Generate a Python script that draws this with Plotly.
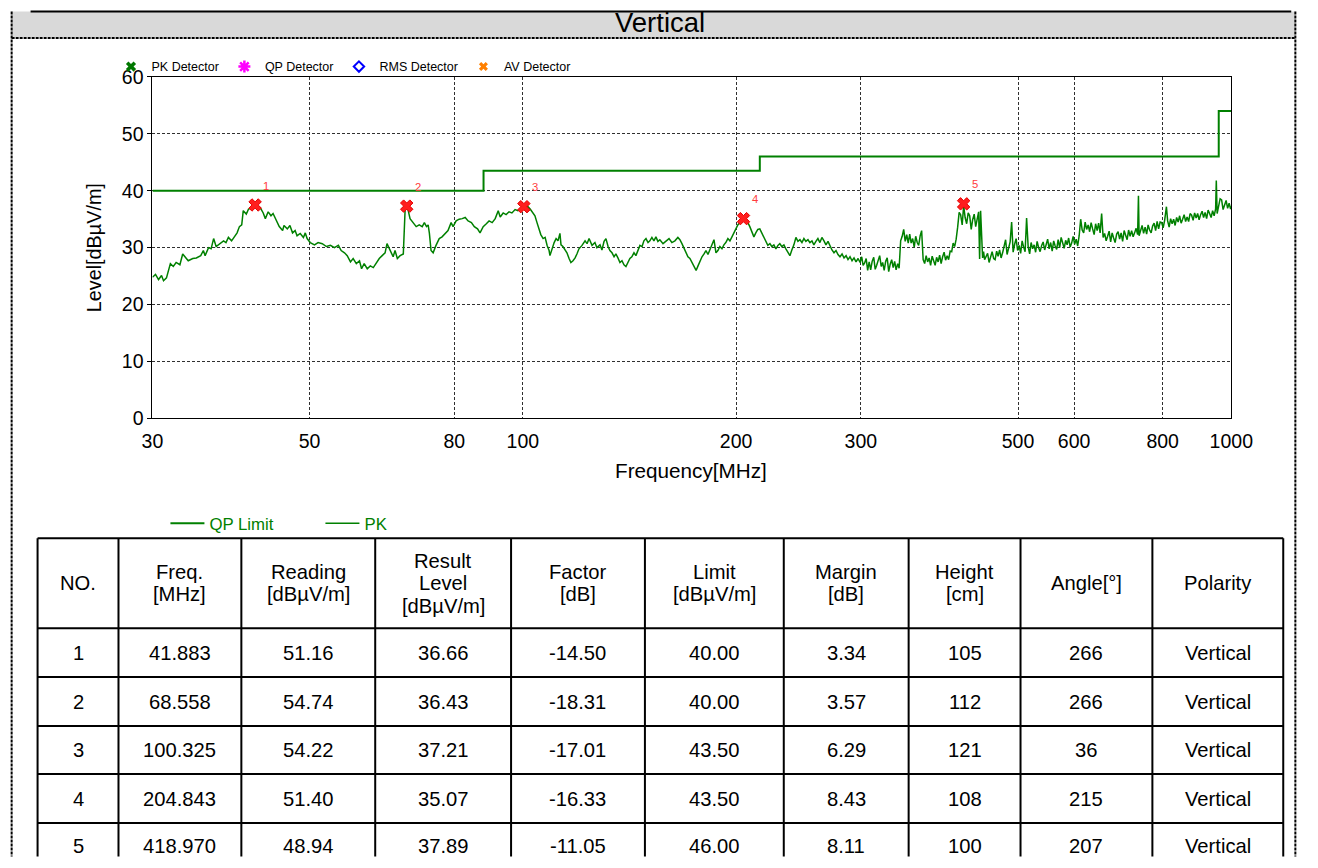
import numpy as np
import plotly.graph_objects as go

W, H = 1318, 868

# ---------------- data ----------------
x_ticks = [30, 50, 80, 100, 200, 300, 500, 600, 800, 1000]
y_ticks = [0, 10, 20, 30, 40, 50, 60]

limit_freq = [30, 88, 216, 960, 1000]
limit_level = [40, 43.5, 46, 54, 54]

# PK sweep, 30-100 MHz
pk_freq_low = [30.0, 30.3, 30.6, 30.9, 31.1, 31.4, 31.8, 32.1, 32.4, 32.8, 33.1, 33.4, 33.7, 34.2, 34.6,
               35.1, 35.4, 35.6, 36.0, 36.3, 36.6, 36.9, 37.3, 37.8, 38.1, 38.4, 38.8, 39.1, 39.5, 39.8,
               40.1, 40.3, 40.7, 41.0, 41.4, 41.8, 42.2, 42.6, 43.0, 43.3, 43.7, 44.1, 44.4, 44.9, 45.3,
               45.8, 46.0, 46.5, 46.9, 47.3, 47.7, 48.0, 48.5, 49.0, 49.3, 49.6, 50.1, 50.8, 51.4, 52.1,
               52.8, 53.5, 54.2, 54.9, 55.4, 56.0, 56.5, 57.1, 57.6, 58.2, 58.8, 59.2, 59.7, 60.3, 60.9,
               61.5, 62.1, 62.7, 63.3, 63.9, 64.3, 64.8, 65.2, 65.6, 66.0, 66.5, 67.1, 67.8, 68.2, 68.7,
               69.3, 70.0, 70.7, 71.4, 72.1, 72.6, 73.1, 73.5, 73.8, 74.2, 74.7, 75.4, 76.2, 76.9, 77.7,
               78.4, 79.2, 79.7, 80.5, 81.3, 82.1, 82.9, 83.7, 84.6, 85.4, 86.3, 87.0, 87.9, 88.8, 89.6,
               90.5, 91.4, 92.3, 92.9, 93.8, 94.7, 95.6, 96.5, 97.5, 98.4, 99.4]
pk_level_low = [24.8, 25.3, 24.4, 25.1, 24.2, 24.7, 27.2, 26.7, 27.4, 27.0, 28.9, 28.2, 27.7, 28.1, 28.2,
                28.6, 29.5, 28.6, 30.0, 29.8, 31.6, 30.2, 30.7, 31.2, 30.9, 31.8, 31.2, 31.9, 32.6, 33.7,
                34.0, 36.5, 35.9, 36.8, 37.0, 37.5, 37.2, 37.0, 36.1, 35.1, 36.3, 35.6, 36.0, 34.7, 33.7,
                33.0, 33.9, 33.3, 33.9, 32.6, 33.0, 32.1, 32.5, 31.8, 32.6, 31.6, 30.9, 30.5, 30.9, 30.7,
                30.2, 30.4, 30.0, 30.4, 29.5, 29.1, 28.6, 27.5, 28.1, 27.2, 27.7, 26.3, 27.2, 26.3, 26.8,
                26.5, 27.4, 28.1, 28.6, 29.1, 30.7, 29.8, 29.1, 28.4, 29.5, 28.1, 28.6, 28.9, 36.7, 37.2,
                35.1, 34.4, 33.7, 34.0, 33.7, 34.4, 33.7, 34.0, 32.5, 29.5, 29.1, 30.4, 31.6, 31.9, 32.6,
                33.0, 34.4, 33.7, 34.7, 35.0, 35.1, 35.3, 34.7, 34.4, 33.7, 33.3, 32.6, 33.7, 34.2, 34.7,
                34.4, 35.1, 36.5, 35.4, 36.1, 35.8, 36.3, 36.1, 36.7, 36.5, 36.8]

# PK sweep, 100-300 MHz
pk_freq_mid = [100.4, 101.3, 102.4, 103.4, 104.0, 104.7, 105.4, 106.0, 106.8, 107.5, 108.2, 108.9, 109.2,
               109.9, 110.7, 111.4, 112.1, 112.8, 113.2, 113.9, 114.7, 115.4, 116.2, 116.9, 117.7, 118.5,
               119.2, 120.0, 121.2, 122.4, 123.2, 124.0, 125.2, 126.4, 127.2, 128.5, 129.3, 130.2, 131.0,
               131.9, 132.7, 133.6, 134.5, 135.3, 136.2, 137.1, 138.0, 138.9, 139.8, 140.7, 141.6, 142.5,
               143.5, 144.4, 145.4, 146.3, 147.3, 148.2, 149.2, 150.2, 151.1, 152.1, 153.1, 154.1, 155.1,
               156.1, 157.7, 159.2, 160.8, 162.3, 163.9, 165.5, 166.6, 167.7, 168.8, 169.9, 171.0, 172.1,
               173.3, 174.4, 175.6, 176.7, 177.9, 179.0, 180.2, 181.3, 182.5, 183.7, 184.9, 186.1, 187.3,
               188.5, 189.7, 191.0, 192.2, 193.4, 194.7, 196.0, 197.3, 198.5, 199.8, 201.1, 202.5, 203.8,
               205.1, 206.4, 207.8, 209.1, 210.5, 211.9, 213.2, 214.6, 216.0, 217.4, 218.9, 220.3, 221.7,
               223.2, 224.6, 226.1, 227.6, 229.1, 230.5, 232.0, 233.6, 235.1, 236.6, 238.2, 239.7, 241.3,
               242.9, 244.5, 246.1, 247.7, 249.3, 250.9, 252.6, 254.2, 255.9, 257.5, 259.2, 260.9, 262.6,
               264.3, 266.1, 267.8, 269.6, 271.3, 273.1, 274.9, 276.7, 278.5, 280.3, 282.2, 284.0, 285.9,
               287.7, 289.6, 291.5, 293.4, 295.3, 297.3, 299.2]
pk_level_mid = [37.2, 37.4, 36.8, 36.1, 35.6, 34.4, 33.3, 32.3, 31.6, 31.8, 30.4, 29.5, 28.6,
                29.8, 30.9, 31.6, 31.2, 32.5, 30.5, 30.2, 29.5, 29.1, 28.1, 27.4, 27.7, 28.2,
                28.9, 29.8, 30.4, 31.2, 30.7, 31.6, 30.4, 30.9, 30.0, 30.5, 29.6, 31.1, 31.6,
                30.2, 29.5, 29.1, 28.4, 28.9, 28.2, 27.4, 27.7, 27.0, 26.7, 27.4, 28.1, 28.4,
                29.1, 28.6, 29.6, 30.4, 30.2, 31.2, 31.6, 30.9, 31.2, 31.8, 31.2, 31.9, 31.1,
                31.4, 30.7, 31.2, 31.6, 30.9, 31.2, 31.8, 31.4, 30.7, 30.0, 29.1, 28.4, 28.1,
                27.4, 26.7, 26.0, 26.8, 27.7, 28.4, 28.9, 29.5, 28.8, 29.8, 30.5, 31.4, 29.1,
                29.5, 30.2, 29.8, 30.5, 30.9, 31.6, 31.2, 31.9, 32.6, 33.3, 34.0, 34.4, 34.9,
                35.1, 34.7, 34.4, 33.7, 32.6, 31.9, 32.6, 33.2, 33.3, 32.6, 31.9, 31.2, 30.4,
                30.7, 30.2, 30.5, 29.8, 30.4, 30.7, 30.2, 30.5, 29.8, 29.1, 28.6, 29.6, 30.5,
                31.8, 31.1, 31.4, 30.9, 31.6, 31.1, 31.4, 30.9, 31.2, 30.5, 31.1, 31.6, 30.9,
                31.8, 31.2, 30.5, 31.1, 30.2, 29.6, 29.1, 29.5, 28.8, 28.4, 28.9, 28.2, 28.6,
                27.9, 28.4, 27.7, 28.2, 27.5, 28.1, 27.4]

# PK sweep, 300-1000 MHz
pk_freq_high = [300.8, 302.2, 303.7, 305.2, 306.7, 308.2, 309.7, 311.2, 312.8, 314.3, 315.8, 317.4,
                318.9, 320.5, 322.0, 323.6, 325.2, 326.8, 328.4, 330.0,
                331.6, 333.2, 334.8, 336.4, 338.1, 339.7, 341.4, 343.1, 344.8, 346.5, 348.2, 349.9,
                351.6, 353.3, 355.0, 356.8, 358.5, 360.3, 362.0, 363.8,
                365.5, 367.3, 369.1, 370.9, 372.7, 374.5, 376.3, 378.2, 380.0, 381.9, 383.7, 385.6,
                387.5, 389.4, 391.3, 393.2, 395.1, 397.1, 399.0, 401.0,
                403.0, 404.9, 406.9, 408.9, 410.9, 412.9, 414.9, 417.0, 419.0, 421.0, 423.1, 425.2,
                427.3, 429.4, 431.4, 433.6, 435.7, 437.8, 439.9,
                441.3, 442.7,
                445.6, 447.0, 448.5, 450.7, 452.9, 455.1, 457.4, 459.6, 461.9, 464.1, 466.4, 468.6,
                470.9, 473.2, 475.5, 477.8, 480.2, 482.5, 484.9, 487.3,
                489.7, 492.1, 494.5, 496.9, 499.3, 501.8, 504.2, 506.7, 509.2, 511.6, 514.1, 516.7,
                519.2, 521.7, 524.3, 526.8, 529.4, 532.0, 534.6, 537.2,
                539.9, 542.5, 545.2, 547.8, 550.5, 553.2, 555.9, 558.7, 561.4, 564.1, 566.9, 569.6,
                572.4, 575.2, 578.0, 580.9, 583.7, 586.5, 589.4, 592.3,
                595.2, 598.1, 601.0, 604.0, 606.9, 609.9, 612.9, 615.9, 618.9, 621.9, 624.9, 628.0,
                631.0, 634.1, 637.2, 640.3, 643.4, 646.6, 649.7, 652.9,
                656.1, 659.3, 662.5, 665.8, 669.0, 672.3, 675.6, 678.9, 682.2, 685.5, 688.9, 692.2,
                695.6, 699.0, 702.4, 705.9, 709.3, 712.8, 716.2, 719.7,
                723.3, 726.8, 730.3, 733.9, 737.5, 739.5, 741.1, 744.7, 748.3, 752.0, 755.7, 759.4,
                763.1, 766.8, 770.6, 774.3, 778.1, 781.9, 785.8, 789.6, 793.5,
                797.4, 801.3, 805.2, 809.9, 813.1, 817.1, 821.0, 825.0, 829.1, 833.1, 837.2, 841.3,
                845.4, 849.5, 853.7, 857.8, 862.0, 866.2, 870.5, 874.7,
                879.0, 883.3, 887.6, 892.0, 896.3, 900.7, 905.1, 909.5, 913.9, 918.4, 922.9, 927.4,
                931.9, 936.5, 941.1, 945.7, 950.3, 952.4, 955.0, 959.6, 964.3,
                969.0, 973.7, 978.5, 983.3, 988.1, 992.9, 997.8, 1000.0]
pk_level_high = [28.4, 26.9, 27.3, 28.1, 26.0, 27.5, 26.1, 27.6, 28.3, 26.2, 26.9, 27.8,
                 28.6, 26.7, 27.4, 26.0, 27.6, 28.2, 25.8, 27.1,
                 27.9, 26.5, 27.6, 26.1, 27.2, 26.4, 31.2, 32.0, 33.2, 31.1, 32.3, 30.8,
                 32.4, 30.8, 31.6, 30.1, 32.0, 30.9, 30.4, 32.1,
                 33.0, 27.9, 27.2, 28.6, 27.5, 28.2, 26.9, 28.5, 27.8, 26.9, 28.3, 27.5,
                 28.7, 27.2, 28.4, 29.2, 27.8, 28.6, 27.9, 29.4,
                 29.3, 30.8, 30.2, 31.5, 33.6, 36.2, 35.8, 34.0, 37.4, 35.3, 34.2, 36.1,
                 35.6, 33.2, 34.9, 35.9, 33.7, 34.8, 36.3,
                 28.0, 36.5,
                 28.2, 29.3, 27.9, 28.6, 29.0, 27.4, 28.7, 29.3, 28.1, 27.9, 29.4, 28.5,
                 29.6, 28.2, 29.1, 30.2, 31.4, 28.8, 29.9, 31.0,
                 34.5, 29.2, 30.6, 31.6, 29.5, 30.4, 29.0, 31.2, 30.1, 29.3, 35.2, 30.2,
                 28.9, 30.9, 29.8, 30.5, 29.2, 31.1, 30.0, 29.3,
                 30.4, 31.0, 29.6, 30.7, 31.5, 29.8, 30.9, 29.4, 31.2, 30.3, 29.7, 31.4,
                 30.0, 31.8, 30.6, 29.9, 31.3, 30.5, 31.7, 30.1,
                 30.8, 32.0, 30.6, 31.5, 30.3, 32.1, 35.0, 33.1, 32.6, 34.5, 33.2, 34.0,
                 32.8, 34.4, 33.3, 32.3, 34.2, 33.0, 34.3, 32.6,
                 36.0, 31.8, 32.5, 31.2, 32.0, 32.9, 31.0, 32.6, 31.7, 30.9, 32.4, 32.8,
                 31.5, 32.6, 31.1, 33.0, 32.2, 31.4, 33.1, 32.0,
                 33.0, 31.9, 32.6, 33.4, 32.3, 39.1, 32.1, 33.3, 33.9, 32.5, 33.6, 32.4,
                 34.0, 33.1, 32.6, 33.8, 34.3, 33.0, 34.6, 33.3, 34.5,
                 34.4, 33.5, 34.8, 37.2, 34.7, 33.6, 35.1, 34.2, 35.0, 33.9, 35.3, 34.5,
                 35.6, 34.3, 35.0, 35.8, 34.6, 35.4, 34.6, 36.0,
                 35.7, 34.8, 36.1, 35.2, 36.0, 34.9, 35.8, 36.4, 35.3, 36.2, 35.1, 36.6,
                 36.0, 35.3, 36.5, 35.6, 36.8, 41.8, 36.0, 37.3, 38.6,
                 38.4, 36.7, 37.5, 38.3, 36.9, 37.8, 36.8, 37.3]

pk_freq = pk_freq_low + pk_freq_mid + pk_freq_high
pk_level = pk_level_low + pk_level_mid + pk_level_high

marker_no = [1, 2, 3, 4, 5]
marker_freq = [41.883, 68.558, 100.325, 204.843, 418.970]
marker_level = [37.5, 37.3, 37.2, 35.1, 37.7]

table_header = ["NO.", "Freq.<br>[MHz]", "Reading<br>[dBµV/m]", "Result<br>Level<br>[dBµV/m]",
                "Factor<br>[dB]", "Limit<br>[dBµV/m]", "Margin<br>[dB]", "Height<br>[cm]",
                "Angle[°]", "Polarity"]
tbl_no = ["1", "2", "3", "4", "5"]
tbl_freq = ["41.883", "68.558", "100.325", "204.843", "418.970"]
tbl_reading = ["51.16", "54.74", "54.22", "51.40", "48.94"]
tbl_result = ["36.66", "36.43", "37.21", "35.07", "37.89"]
tbl_factor = ["-14.50", "-18.31", "-17.01", "-16.33", "-11.05"]
tbl_limit = ["40.00", "40.00", "43.50", "43.50", "46.00"]
tbl_margin = ["3.34", "3.57", "6.29", "8.43", "8.11"]
tbl_height = ["105", "112", "121", "108", "100"]
tbl_angle = ["266", "266", "36", "215", "207"]
tbl_polarity = ["Vertical", "Vertical", "Vertical", "Vertical", "Vertical"]

# ---------------- layout helpers ----------------
# the photographed page appears scaled by S and offset by (OX, OY); positions below are
# given in target-picture pixels and converted to paper fractions
S, OX, OY = 0.976, 10.4, 10.0


def px(x):
    return min(max(((x - OX) / S) / W, 0.0005), 0.9995)


def py(y):
    return min(max(1 - ((y - OY) / S) / H, 0.0005), 0.9995)


def fs(size):
    return size / S


FONT = "Liberation Sans, Arial, sans-serif"
GREEN = "rgb(0,128,0)"

fig = go.Figure()

# top legend (detector types)
fig.add_trace(go.Scatter(x=[None], y=[None], mode="markers", name="PK Detector", legend="legend",
                         marker=dict(symbol="x", size=9, color="rgb(0,120,0)")))
fig.add_trace(go.Scatter(x=[None], y=[None], mode="markers", name="QP Detector", legend="legend",
                         marker=dict(symbol="asterisk-open", size=10, color="magenta",
                                     line=dict(color="magenta", width=2.5))))
fig.add_trace(go.Scatter(x=[None], y=[None], mode="markers", name="RMS Detector", legend="legend",
                         marker=dict(symbol="diamond-open", size=8, color="blue",
                                     line=dict(color="blue", width=2))))
fig.add_trace(go.Scatter(x=[None], y=[None], mode="markers", name="AV Detector", legend="legend",
                         marker=dict(symbol="x", size=8, color="rgb(255,128,0)")))

# limit and PK traces (bottom legend)
fig.add_trace(go.Scatter(x=limit_freq, y=limit_level, mode="lines", name="QP Limit", legend="legend2",
                         line=dict(color=GREEN, width=2, shape="hv")))
fig.add_trace(go.Scatter(x=pk_freq, y=pk_level, mode="lines", name="PK", legend="legend2",
                         line=dict(color=GREEN, width=1.5)))
fig.add_trace(go.Scatter(x=marker_freq, y=marker_level, mode="markers", showlegend=False,
                         marker=dict(symbol="x", size=11, color="rgb(255,30,30)",
                                     line=dict(color="rgb(230,0,0)", width=1))))

annotations = []
for n, f, lv in zip(marker_no, marker_freq, marker_level):
    annotations.append(dict(x=np.log10(f), y=lv, xref="x", yref="y", text=str(n), showarrow=False,
                            xanchor="center", yanchor="middle",
                            xshift=fs(11), yshift=fs(19),
                            font=dict(size=fs(11), color="rgb(255,60,60)", family=FONT)))

# axis titles
annotations.append(dict(x=px(691), y=py(470), xref="paper", yref="paper", text="Frequency[MHz]",
                        xanchor="center", yanchor="middle",
                        showarrow=False, font=dict(size=20.7, family=FONT, color="black")))
annotations.append(dict(x=px(93), y=py(247), xref="paper", yref="paper", text="Level[dBµV/m]",
                        xanchor="center", yanchor="middle",
                        textangle=-90, showarrow=False, font=dict(size=19.8, family=FONT, color="black")))

# header band text
annotations.append(dict(x=px(660), y=py(22), xref="paper", yref="paper", text="Vertical",
                        xanchor="center", yanchor="middle",
                        showarrow=False, font=dict(size=27.5, family=FONT, color="black")))

shapes = []
col_x = [37, 118, 241, 375, 511, 645, 784, 909, 1021, 1153, 1284]
# gray band with the page frame
shapes.append(dict(type="rect", xref="paper", yref="paper", x0=px(8), x1=px(1312), y0=py(8), y1=py(36),
                   fillcolor="#d9d9d9", line=dict(width=0), layer="below"))
# previous table bottom edge
shapes.append(dict(type="line", xref="paper", yref="paper", x0=px(30), x1=px(1292), y0=py(3), y1=py(3),
                   line=dict(color="black", width=2)))
dash_line = dict(color="black", width=2, dash="3px,1px")
shapes.append(dict(type="line", xref="paper", yref="paper", x0=px(7), x1=px(1312), y0=py(37), y1=py(37),
                   line=dash_line))
shapes.append(dict(type="line", xref="paper", yref="paper", x0=px(7), x1=px(7), y0=py(7), y1=py(868),
                   line=dash_line))
shapes.append(dict(type="line", xref="paper", yref="paper", x0=px(1312), x1=px(1312), y0=py(7), y1=py(868),
                   line=dash_line))

# table grid
row_y = [538, 628, 677, 726, 774, 823]
for ry in row_y:
    shapes.append(dict(type="line", xref="paper", yref="paper", x0=px(col_x[0]), x1=px(col_x[-1]),
                       y0=py(ry), y1=py(ry), line=dict(color="black", width=2)))
for cx in col_x:
    shapes.append(dict(type="line", xref="paper", yref="paper", x0=px(cx), x1=px(cx),
                       y0=py(row_y[0]), y1=py(870), line=dict(color="black", width=2)))

col_centers = [(col_x[i] + col_x[i + 1]) / 2 for i in range(len(col_x) - 1)]
LINE_GAP = 22.5
for c, t in zip(col_centers, table_header):
    parts = t.split("<br>")
    y0 = 583 - LINE_GAP * (len(parts) - 1) / 2
    for k, part in enumerate(parts):
        annotations.append(dict(x=px(c), y=py(y0 + k * LINE_GAP), xref="paper", yref="paper", text=part,
                                showarrow=False, xanchor="center", yanchor="middle",
                                font=dict(size=20.2, family=FONT, color="black")))
columns = [tbl_no, tbl_freq, tbl_reading, tbl_result, tbl_factor, tbl_limit, tbl_margin,
           tbl_height, tbl_angle, tbl_polarity]
row_centers = [653, 702, 750, 799, 846]
for ci, col in enumerate(columns):
    for ri, val in enumerate(col):
        annotations.append(dict(x=px(col_centers[ci]), y=py(row_centers[ri]), xref="paper", yref="paper",
                                text=val, showarrow=False, xanchor="center", yanchor="middle",
                                font=dict(size=20.2, family=FONT, color="black")))

fig.update_layout(
    width=W, height=H, margin=dict(l=0, r=0, t=0, b=0),
    paper_bgcolor="white", plot_bgcolor="white",
    font=dict(family=FONT, color="black"),
    xaxis=dict(domain=[px(152), px(1232)], type="log", range=[np.log10(30), np.log10(1000)],
               tickmode="array", tickvals=x_ticks, ticktext=[str(v) for v in x_ticks],
               showgrid=True, gridcolor="#303030", griddash="3px,2px", gridwidth=1,
               showline=True, linecolor="black", linewidth=1, mirror=True, ticks="",
               ticklabelstandoff=5,
               tickfont=dict(size=19.5, family=FONT, color="black"), zeroline=False),
    yaxis=dict(domain=[py(418), py(76)], range=[0, 60], tickmode="array", tickvals=y_ticks,
               showgrid=True, gridcolor="#303030", griddash="3px,2px", gridwidth=1,
               showline=True, linecolor="black", linewidth=1, mirror=True, ticks="outside",
               ticklen=4, tickcolor="black",
               tickfont=dict(size=19.5, family=FONT, color="black"), zeroline=False),
    legend=dict(orientation="h", x=px(110), xanchor="left", y=py(66), yanchor="middle",
                font=dict(size=12.5, family=FONT, color="black"), itemwidth=31,
                bgcolor="rgba(0,0,0,0)", traceorder="normal"),
    legend2=dict(orientation="h", x=px(165), xanchor="left", y=py(523), yanchor="middle",
                 font=dict(size=16.8, family=FONT, color=GREEN), itemwidth=34,
                 entrywidth=106, entrywidthmode="pixels",
                 bgcolor="rgba(0,0,0,0)", traceorder="normal"),
    shapes=shapes, annotations=annotations,
)

fig.write_html("out.html", config={"displayModeBar": False},
               post_script="document.body.style.margin='0px';document.body.style.overflow='hidden';")
